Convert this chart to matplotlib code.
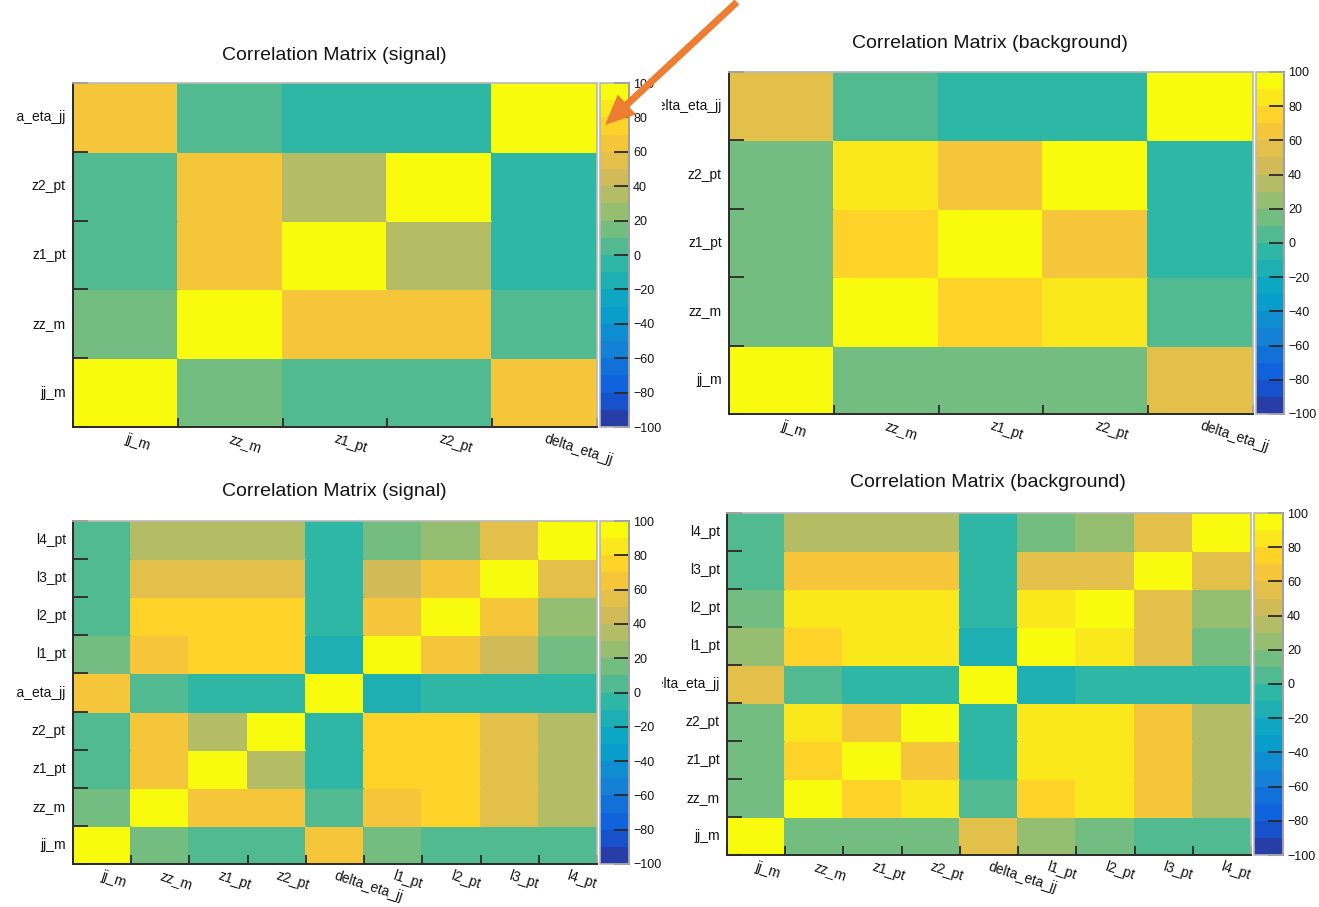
import numpy as np
import matplotlib
matplotlib.use("Agg")
import matplotlib.pyplot as plt
from matplotlib.colors import LinearSegmentedColormap, ListedColormap, BoundaryNorm
from matplotlib.cm import ScalarMappable
from matplotlib.patches import FancyArrow
from matplotlib.transforms import Bbox, TransformedBbox

plt.rcParams["font.family"] = ["Liberation Sans", "DejaVu Sans"]

# ---------------------------------------------------------------- data
vars5 = ["jj_m", "zz_m", "z1_pt", "z2_pt", "delta_eta_jj"]
vars9 = ["jj_m", "zz_m", "z1_pt", "z2_pt", "delta_eta_jj",
         "l1_pt", "l2_pt", "l3_pt", "l4_pt"]

# linear correlation coefficients in %, row i / column j follow the variable order
sig5 = [
    [100, 14, 4, 4, 64],
    [14, 100, 63, 63, 5],
    [4, 63, 100, 36, -4],
    [4, 63, 36, 100, -4],
    [64, 5, -4, -4, 100],
]
bkg5 = [
    [100, 15, 14, 14, 55],
    [15, 100, 76, 84, 6],
    [14, 76, 100, 64, -3],
    [14, 84, 64, 100, -3],
    [55, 6, -3, -3, 100],
]
sig9 = [
    [100, 14, 4, 4, 64, 16, 5, 5, 4],
    [14, 100, 63, 63, 5, 65, 74, 56, 36],
    [4, 63, 100, 36, -4, 74, 75, 55, 34],
    [4, 63, 36, 100, -4, 74, 75, 55, 34],
    [64, 5, -4, -4, 100, -14, -5, -5, -5],
    [16, 65, 74, 74, -14, 100, 66, 46, 16],
    [5, 74, 75, 75, -5, 66, 100, 65, 26],
    [5, 56, 55, 55, -5, 46, 65, 100, 55],
    [4, 36, 34, 34, -5, 16, 26, 55, 100],
]
bkg9 = [
    [100, 15, 14, 14, 55, 25, 16, 6, 5],
    [15, 100, 76, 84, 6, 75, 85, 64, 35],
    [14, 76, 100, 64, -3, 84, 85, 65, 34],
    [14, 84, 64, 100, -3, 85, 86, 65, 34],
    [55, 6, -3, -3, 100, -13, -4, -4, -4],
    [25, 75, 84, 85, -13, 100, 84, 55, 16],
    [16, 85, 85, 86, -4, 84, 100, 56, 25],
    [6, 64, 65, 65, -4, 55, 56, 100, 55],
    [5, 35, 34, 34, -4, 16, 25, 55, 100],
]

bar_ticks = [-100, -80, -60, -40, -20, 0, 20, 40, 60, 80, 100]
title_sig = "Correlation Matrix (signal)"
title_bkg = "Correlation Matrix (background)"

# ---------------------------------------------------------------- palette (ROOT kBird, 20 contours)
bird_stops = [0.0, 0.125, 0.25, 0.375, 0.5, 0.625, 0.75, 0.875, 1.0]
bird_r = [0.2082, 0.0592, 0.0780, 0.0232, 0.1802, 0.5301, 0.8186, 0.9956, 0.9764]
bird_g = [0.1664, 0.3599, 0.5041, 0.6419, 0.7178, 0.7492, 0.7328, 0.7862, 0.9832]
bird_b = [0.5293, 0.8684, 0.8385, 0.7914, 0.6425, 0.4662, 0.3499, 0.1968, 0.0539]
bird = LinearSegmentedColormap.from_list(
    "bird", list(zip(bird_stops, zip(bird_r, bird_g, bird_b))), N=255)
n_contours = 20
levels = np.linspace(-100, 100, n_contours + 1)
picks = [int((i + 0.99) * 255 / n_contours) / 254.0 for i in range(n_contours)]
cmap = ListedColormap([bird(p) for p in picks])
norm = BoundaryNorm(levels, cmap.N)

# ---------------------------------------------------------------- figure
W, H, DPI = 1319, 907, 100
fig = plt.figure(figsize=(W / DPI, H / DPI), dpi=DPI)
fig.patch.set_facecolor("white")

DARK = "#2a2a2a"
FRAME = "#b8b8b8"
TXT = "#141414"


def rect(x0, y0, x1, y1):
    return [x0 / W, 1 - y1 / H, (x1 - x0) / W, (y1 - y0) / H]


def draw_panel(names, mat, title, hm, cb, title_xy, clip_x):
    n = len(names)
    x0, y0, x1, y1 = hm
    cw = (x1 - x0) / n
    ch = (y1 - y0) / n

    ax = fig.add_axes(rect(*hm))
    edges = np.arange(n + 1)
    ax.pcolormesh(edges, edges, np.array(mat, dtype=float), cmap=cmap,
                  norm=norm, edgecolors="face", linewidth=0.3)
    ax.set_xlim(0, n)
    ax.set_ylim(0, n)
    ax.set_xticks(edges)
    ax.set_yticks(edges)
    ax.set_xticklabels([])
    ax.set_yticklabels([])
    ax.tick_params(axis="y", direction="in", length=11, width=1.3,
                   color=DARK, left=True, right=False)
    ax.tick_params(axis="x", direction="in", length=6.5, width=1.3,
                   color=DARK, bottom=True, top=False)
    for s in ("left", "bottom"):
        ax.spines[s].set_color(DARK)
        ax.spines[s].set_linewidth(1.4)
    for s in ("top", "right"):
        ax.spines[s].set_color(FRAME)
        ax.spines[s].set_linewidth(1.2)

    clipbox = TransformedBbox(Bbox([[clip_x / DPI, 0], [W / DPI, H / DPI]]),
                              fig.dpi_scale_trans)

    for i, name in enumerate(names):
        ty = fig.text((x0 - 7) / W, 1 - (y1 - (i + 0.5) * ch) / H, name,
                      ha="right", va="center", fontsize=10, color=TXT)
        ty.set_clip_box(clipbox)
        ty.set_clip_on(True)
        fig.text((x0 + (i + 0.5) * cw + 2) / W, 1 - (y1 + 5) / H, name,
                 ha="left", va="top", rotation=-18, rotation_mode="anchor",
                 fontsize=10, color=TXT)

    fig.text(title_xy[0] / W, 1 - title_xy[1] / H, title, ha="center",
             va="center", fontsize=14, color=TXT)

    cax = fig.add_axes(rect(*cb))
    bar = fig.colorbar(ScalarMappable(norm=norm, cmap=cmap), cax=cax,
                       ticks=bar_ticks)
    bar.outline.set_edgecolor(FRAME)
    bar.outline.set_linewidth(1.2)
    cax.tick_params(direction="in", length=10.5, width=1.3, color=DARK,
                    labelsize=9, labelcolor=TXT, pad=3)
    cax.minorticks_off()
    cax.plot([1, 1], [0, 1], transform=cax.transAxes, color=DARK, lw=1.4,
             clip_on=False)
    return ax


draw_panel(vars5, sig5, title_sig, (73, 83, 597, 427), (600, 83, 629, 427),
           (334, 55), 16)
draw_panel(vars5, bkg5, title_bkg, (729, 72, 1253, 414), (1256, 72, 1284, 414),
           (990, 43), 662)
draw_panel(vars9, sig9, title_sig, (73, 521, 597, 864), (600, 521, 629, 864),
           (334, 492), 16)
draw_panel(vars9, bkg9, title_bkg, (727, 513, 1251, 855), (1254, 513, 1283, 855),
           (988, 483), 662)

# callout arrow pointing at the upper end of the first colour scale
tail = (737 / DPI, (H - 2) / DPI)
tip = (605 / DPI, (H - 125) / DPI)
arrow = FancyArrow(tail[0], tail[1], tip[0] - tail[0], tip[1] - tail[1],
                   width=0.07, head_width=0.27, head_length=0.30,
                   length_includes_head=True, color="#ED7D31", lw=0,
                   transform=fig.dpi_scale_trans, zorder=10)
fig.add_artist(arrow)

fig.savefig("out.png", dpi=DPI, facecolor="white")
